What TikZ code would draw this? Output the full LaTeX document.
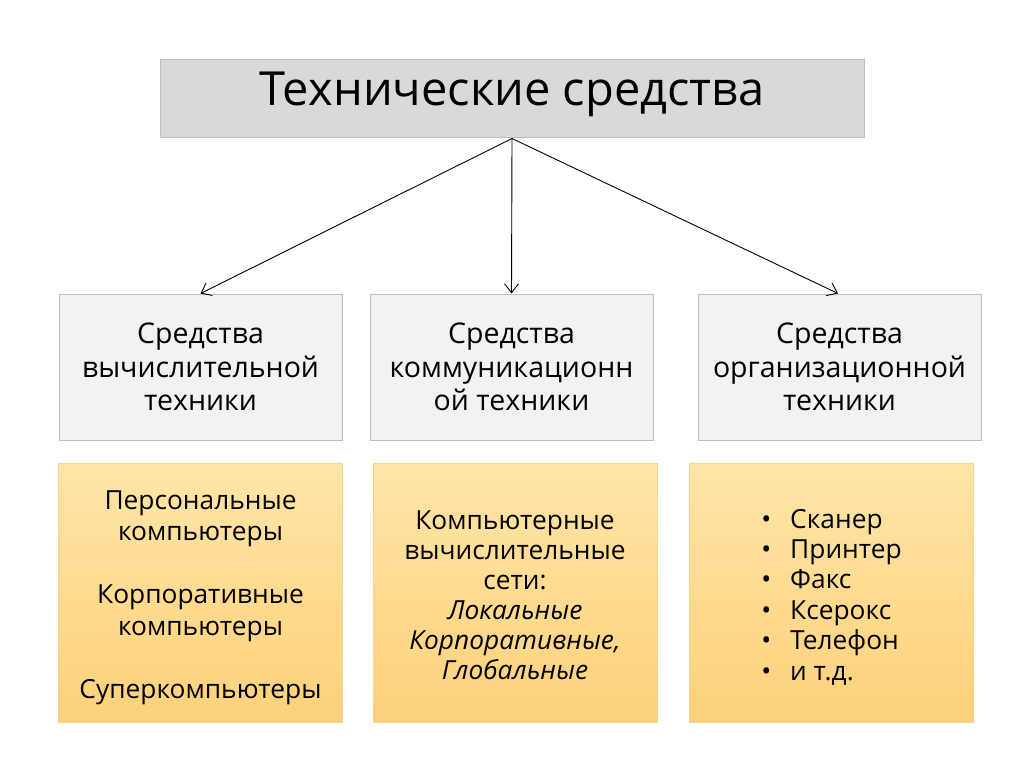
\documentclass[tikz,border=0pt]{standalone}
\usepackage{fontspec}
\setmainfont{Open Sans}
\usepackage{tikz}
\usetikzlibrary{arrows.meta,positioning}
\definecolor{boxgray}  {RGB}{217,217,217}
\definecolor{boxlight} {RGB}{242,242,242}
\definecolor{boxline}  {RGB}{191,191,191}
\definecolor{goldtop}  {RGB}{255,229,168}
\definecolor{goldbot}  {RGB}{253,209,122}
\definecolor{goldline} {RGB}{249,212,140}

\begin{document}
\begin{tikzpicture}[x=1pt,y=-1pt,
  topbox/.style={draw=boxline, fill=boxgray, line width=1pt, minimum width=704pt, minimum height=78pt, inner sep=0pt},
  midbox/.style={draw=boxline, fill=boxlight, line width=1pt, minimum width=283pt, minimum height=146pt, inner sep=0pt, align=center,
    font=\fontsize{28.5}{33.5}\selectfont},
  goldbox/.style={draw=goldline, top color=goldtop, bottom color=goldbot, line width=0.8pt, minimum width=284pt, minimum height=259pt, inner sep=0pt},
  goldtext/.style={font=\fontsize{26.3}{31.5}\selectfont},
  link/.style={-{Straight Barb[length=9pt,width=14pt]}, line width=0.9pt}]
\useasboundingbox (0,0) rectangle (1024,767);
% title
\node[topbox] (T) at (512,99) {};
\node[font=\fontsize{47}{52}\selectfont] at (512,94) {Технические средства};
% second row
\node[midbox] (A) at (200.5,367) {Средства\\вычислительной\\техники};
\node[midbox] (B) at (511.5,367) {Средства\\коммуникационн\\ой техники};
\node[midbox] (C) at (839.5,367) {Средства\\организационной\\техники};
% third row
\node[goldbox] (D) at (200.5,592.5) {};
\node[goldtext, align=center] at ([yshift=-5pt]D.center) {Персональные\\компьютеры\\[31.5pt]Корпоративные\\компьютеры\\[31.5pt]Суперкомпьютеры};
\node[goldbox] (E) at (515,592.5) {};
\node[goldtext, align=center, font=\fontsize{26.3}{30}\selectfont] at ([yshift=-3pt]E.center) {Компьютерные\\вычислительные\\сети:\\\itshape Локальные\\\itshape Корпоративные,\\\itshape Глобальные};
\node[goldbox] (F) at (831.5,592.5) {};
\node[goldtext, align=left, font=\fontsize{26.3}{30.4}\selectfont] at ([yshift=-4.5pt]F.center) {%
  \makebox[29pt][l]{•}Сканер\\\makebox[29pt][l]{•}Принтер\\\makebox[29pt][l]{•}Факс\\
  \makebox[29pt][l]{•}Ксерокс\\\makebox[29pt][l]{•}Телефон\\\makebox[29pt][l]{•}и т.д.};
% connectors
\draw[link] (T.south) -- (A.north);
\draw[link] (T.south) -- (B.north);
\draw[link] (T.south) -- ([xshift=-1.5pt]C.north);
\end{tikzpicture}
\end{document}
